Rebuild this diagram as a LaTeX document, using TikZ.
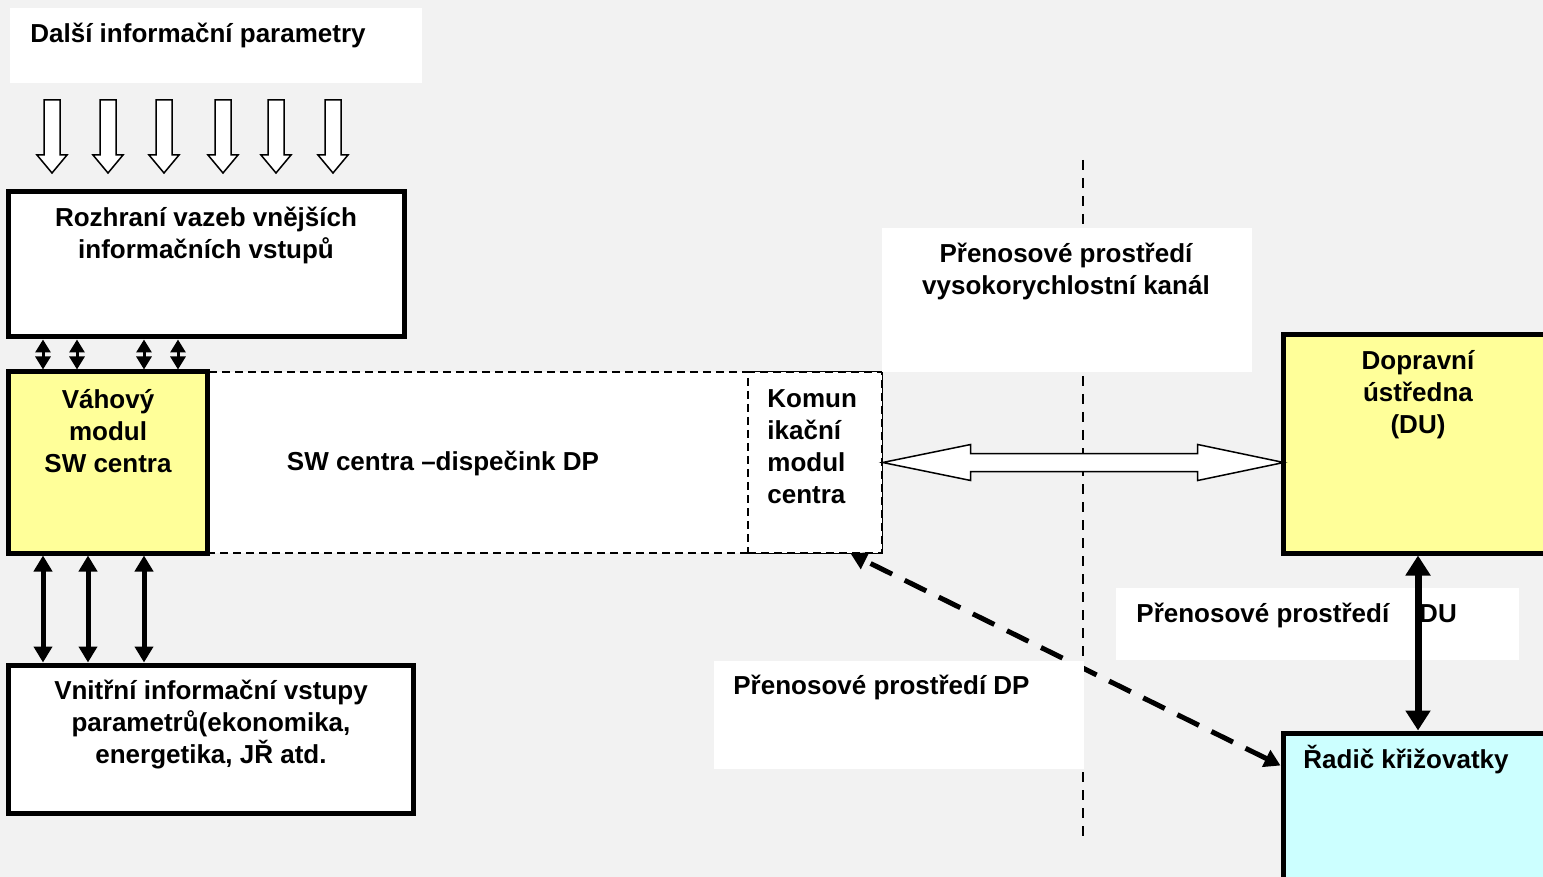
\documentclass[tikz,border=0pt]{standalone}
\usepackage{fontspec}
\setmainfont{Liberation Sans}
\usetikzlibrary{arrows.meta,fit}
\definecolor{pozadi}{HTML}{F2F2F2}
\definecolor{zluta}{HTML}{FFFF99}
\definecolor{modra}{HTML}{CCFFFF}

\begin{document}
\begin{tikzpicture}[x=0.5pt,y=-0.5pt,font=\bfseries\fontsize{13}{16}\selectfont,
		>={Triangle[length=8pt,width=9pt]}]
		\tikzstyle{box}=[draw=black,line width=2.5pt,inner sep=0pt]
		\tikzstyle{pole}=[fill=white,inner sep=0pt]
		\tikzstyle{carkovany}=[draw=black,fill=white,dash pattern=on 4pt off 2.5pt,line width=0.7pt,inner sep=0pt]
		\tikzstyle{txt}=[inner sep=0pt,align=center]
		\tikzstyle{sipka}=[draw=black,fill=white,line width=0.75pt,line join=miter]
		\tikzstyle{tlusta}=[<->,line width=2.5pt]
		\fill[pozadi] (0,0) rectangle (1543,877);
		\useasboundingbox (0,0) rectangle (1543,877);
		\draw[dash pattern=on 5pt off 4pt,line width=0.7pt] (1083,160) -- (1083,840);
		\node[pole] (dalsi) [fit={(10,8) (422,83)}] {};
		\node[txt,anchor=west] (tdalsi) at (30,35) {Další informační parametry};
		\foreach \x in {52,108,164,223,276,333}
			\draw[sipka] (\x-8,100) -- ++(16,0) -- ++(0,55) -- ++(7,0) -- ++(-15,18)
				-- ++(-15,-18) -- ++(7,0) -- cycle;
		\node[box,fill=white] (rozhrani) [fit={(8,192) (404,337)}] {};
		\node[txt] (trozhrani) at (206,235) {Rozhraní vazeb vnějších\\informačních vstupů};
		\node[carkovany] (centrum) [fit={(207,372) (882,553)}] {};
		\node[carkovany] (komun) [fit={(748,372) (882,553)}] {};
		\node[txt] (tcentrum) at (443,463) {SW centra –dispečink DP};
		\node[txt,align=left,anchor=west] (tkomun) at (767,447) {Komun\\ikační\\modul\\centra};
		\node[box,fill=zluta] (vahovy) [fit={(8,372) (207,553)}] {};
		\node[txt] (tvahovy) at (108,431) {Váhový\\modul\\SW centra};
		\foreach \x in {43,77,144,178}
			\draw[<->,line width=1.5pt,>={Triangle[length=6.5pt,width=7.5pt]}]
				(\x,0 |- rozhrani.south) -- (\x,0 |- vahovy.north);
		\node[box,fill=white] (vnitrni) [fit={(8,665) (413,813)}] {};
		\node[txt] (tvnitrni) at (211,725) {Vnitřní informační vstupy\\parametrů(ekonomika,\\energetika, JŘ atd.};
		\foreach \x in {43,88,144}
			\draw[tlusta] (\x,0 |- vahovy.south) -- (\x,0 |- vnitrni.north);
		\node[box,fill=zluta] (du) [fit={(1283,335) (1560,553)}] {};
		\node[txt] (tdu) at (1418,395) {Dopravní\\ústředna\\(DU)};
		\node[box,fill=modra] (radic) [fit={(1283,733) (1560,900)}] {};
		\node[txt,anchor=west] (tradic) at (1303,760) {Řadič křižovatky};
		\draw[tlusta,dash pattern=on 12pt off 7pt]
			([yshift=-17.5pt]radic.north west) -- ([xshift=-16pt]komun.south east);
		\node[pole] (kanal) [fit={(882,228) (1252,372)}] {};
		\node[txt] (tkanal) at (1066,271) {Přenosové prostředí\\vysokorychlostní kanál};
		\node[pole] (pdp) [fit={(714,661) (1084,769)}] {};
		\node[txt,anchor=west] (tpdp) at (733,687) {Přenosové prostředí DP};
		\node[pole] (pdu) [fit={(1116,588) (1519,660)}] {};
		\node[txt,anchor=west] (tpdu) at (1136,615) {Přenosové prostředí\hspace{15pt}DU};
		\draw[<->,line width=3.5pt,>={Triangle[length=10pt,width=12pt]}]
			(1418,0 |- du.south) -- (1418,0 |- radic.north);
		\draw[sipka] (komun.east) -- ++(88,-18) -- ++(0,9) -- ++(227,0) -- ++(0,-9)
			-- ++(86,18) -- ++(-86,18) -- ++(0,-9) -- ++(-227,0) -- ++(0,9) -- cycle;
	\end{tikzpicture}
\end{document}
